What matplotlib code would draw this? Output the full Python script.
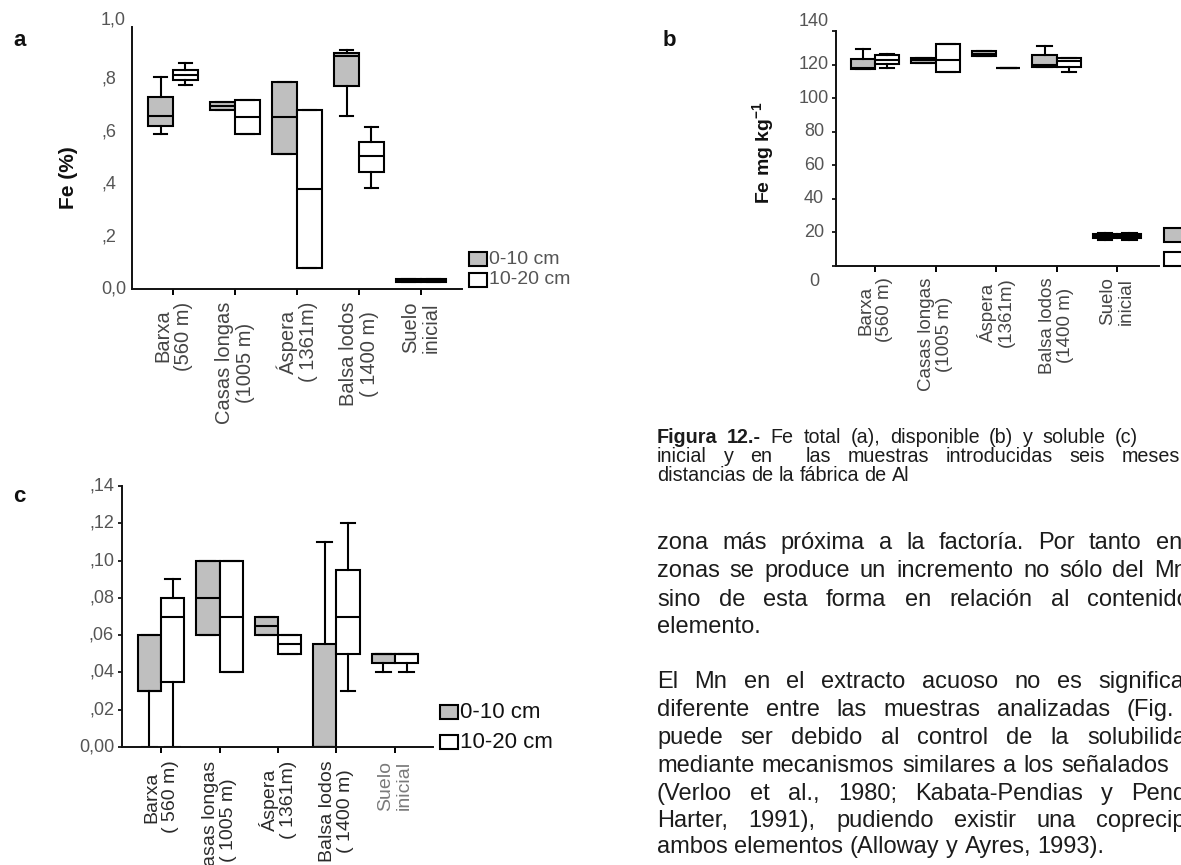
import matplotlib
matplotlib.use("Agg")
import matplotlib.pyplot as plt
from matplotlib.patches import Rectangle
from matplotlib.transforms import blended_transform_factory

plt.rcParams['font.family'] = ['Liberation Sans', 'DejaVu Sans']
plt.rcParams['mathtext.fontset'] = 'custom'
plt.rcParams['mathtext.rm'] = 'Liberation Sans'
plt.rcParams['mathtext.bf'] = 'Liberation Sans:bold'

W, H, DPI = 1181, 865, 100

# ---------------------------------------------------------------- data
# box statistics per site: (whislo, q1, med, q3, whishi)
sites_a = ["Barxa\n(560 m)", "Casas longas\n(1005 m)", "Áspera\n( 1361m)",
           "Balsa lodos\n( 1400 m)", "Suelo\ninicial"]
sites_b = ["Barxa\n(560 m)", "Casas longas\n(1005 m)", "Áspera\n(1361m)",
           "Balsa lodos\n(1400 m)", "Suelo\ninicial"]
sites_c = ["Barxa\n( 560 m)", "Casas longas\n( 1005 m)", "Áspera\n( 1361m)",
           "Balsa lodos\n( 1400 m)", "Suelo\ninicial"]

fe_total_0_10 = [(0.593, 0.622, 0.659, 0.734, 0.809),
                 (0.682, 0.682, 0.697, 0.712, 0.712),
                 (0.515, 0.515, 0.655, 0.790, 0.790),
                 (0.659, 0.776, 0.888, 0.901, 0.911),
                 (0.027, 0.027, 0.032, 0.037, 0.037)]
fe_total_10_20 = [(0.777, 0.797, 0.815, 0.836, 0.861),
                  (0.593, 0.593, 0.656, 0.721, 0.721),
                  (0.081, 0.081, 0.382, 0.682, 0.682),
                  (0.385, 0.445, 0.507, 0.562, 0.618),
                  (0.027, 0.027, 0.032, 0.037, 0.037)]

fe_disp_0_10 = [(117.5, 117.5, 118.0, 123.2, 129.0),
                (121.2, 121.2, 122.5, 123.8, 123.8),
                (125.0, 125.0, 126.3, 127.8, 127.8),
                (118.7, 118.7, 119.5, 125.5, 131.0),
                (15.6, 16.4, 17.7, 19.0, 19.8)]
fe_disp_10_20 = [(117.8, 120.5, 123.0, 125.5, 126.5),
                 (115.5, 115.5, 123.0, 132.5, 132.5),
                 (118.0, 118.0, 118.0, 118.0, 118.0),
                 (115.5, 118.8, 122.0, 124.0, 124.0),
                 (15.6, 16.4, 17.7, 19.0, 19.8)]

fe_sol_0_10 = [(0.000, 0.030, 0.030, 0.060, 0.060),
               (0.060, 0.060, 0.080, 0.100, 0.100),
               (0.060, 0.060, 0.065, 0.070, 0.070),
               (0.000, 0.000, 0.000, 0.055, 0.110),
               (0.040, 0.045, 0.050, 0.050, 0.050)]
fe_sol_10_20 = [(0.000, 0.035, 0.070, 0.080, 0.090),
                (0.040, 0.040, 0.070, 0.100, 0.100),
                (0.050, 0.050, 0.055, 0.060, 0.060),
                (0.030, 0.050, 0.070, 0.095, 0.120),
                (0.040, 0.045, 0.050, 0.050, 0.050)]

ticks_a = [0.0, 0.2, 0.4, 0.6, 0.8, 1.0]
ticklabels_a = ["0,0", ",2", ",4", ",6", ",8", "1,0"]
ticks_b = [0, 20, 40, 60, 80, 100, 120, 140]
ticklabels_b = ["0", "20", "40", "60", "80", "100", "120", "140"]
ticks_c = [0.0, 0.02, 0.04, 0.06, 0.08, 0.10, 0.12, 0.14]
ticklabels_c = ["0,00", ",02", ",04", ",06", ",08", ",10", ",12", ",14"]

depths = ["0-10 cm", "10-20 cm"]

# ---------------------------------------------------------------- style
GRAY = '#bfbfbf'
LW = 1.5
TICKCOL = '#555555'
TXT = '#1c1c1c'

fig = plt.figure(figsize=(W / DPI, H / DPI), dpi=DPI)
fig.patch.set_facecolor('white')


def fx(x):
    return x / W


def fy(y):
    return 1 - y / H


def make_axes(left, right, bottom, top):
    ax = fig.add_axes([fx(left), fy(bottom), (right - left) / W, (bottom - top) / H])
    ax.patch.set_alpha(0)
    for s in ('top', 'right'):
        ax.spines[s].set_visible(False)
    for s in ('left', 'bottom'):
        ax.spines[s].set_linewidth(1.4)
        ax.spines[s].set_color('#111111')
    return ax


def draw_boxes(ax, rows, positions, face, capw):
    stats = [dict(whislo=r[0], q1=r[1], med=r[2], q3=r[3], whishi=r[4], fliers=[])
             for r in rows]
    ax.bxp(stats, positions=positions, widths=0.4, capwidths=capw,
           patch_artist=True, showfliers=False, manage_ticks=False,
           boxprops=dict(facecolor=face, edgecolor='black', linewidth=LW),
           medianprops=dict(color='black', linewidth=LW),
           whiskerprops=dict(color='black', linewidth=LW),
           capprops=dict(color='black', linewidth=LW))


def panel(ax, lo_rows, hi_rows, sites, ylim, xlim, ticks, labels, lab_x, lab_ha,
          offsets, xpad_px, ytick_len, capw, xlab_colors, xlab_size):
    pos = list(range(1, len(sites) + 1))
    draw_boxes(ax, lo_rows, [p - 0.2 for p in pos], GRAY, capw)
    draw_boxes(ax, hi_rows, [p + 0.2 for p in pos], 'white', capw)
    ax.set_xlim(*xlim)
    ax.set_ylim(*ylim)
    ax.set_xticks(pos)
    ax.set_xticklabels(sites, rotation=90, ha='center', va='top',
                       multialignment='center', fontsize=xlab_size, linespacing=1.1)
    for t, c in zip(ax.get_xticklabels(), xlab_colors):
        t.set_color(c)
    ax.tick_params(axis='x', length=4, width=1.4, direction='out',
                   pad=xpad_px * 72 / DPI)
    ax.set_yticks(ticks)
    ax.set_yticklabels([])
    ax.tick_params(axis='y', length=ytick_len, width=1.2, direction='out')
    tr = blended_transform_factory(fig.transFigure, ax.transData)
    for v, s in zip(ticks, labels):
        dy = offsets.get(s, 0)
        ax.annotate(s, xy=(fx(lab_x), v), xycoords=tr, xytext=(0, dy * 72 / DPI),
                    textcoords='offset points', ha=lab_ha, va='center',
                    fontsize=13, color=TICKCOL, annotation_clip=False)


# ---------------------------------------------------------------- panel a
ax_a = make_axes(132, 462, 289, 27)
panel(ax_a, fe_total_0_10, fe_total_10_20, sites_a, (0, 1.0), (0.339, 5.66),
      ticks_a, ticklabels_a, 101, 'left', {"1,0": 7}, 7, 0, 0.2,
      ['#444444'] * 5, 14.5)
fig.text(fx(68), fy(178), "Fe (%)", rotation=90, ha='center', va='center',
         fontsize=15, fontweight='bold', color='#111111')

# ---------------------------------------------------------------- panel b
ax_b = make_axes(836, 1159, 266, 31)
panel(ax_b, fe_disp_0_10, fe_disp_10_20, sites_b, (0, 140), (0.355, 5.69),
      ticks_b, ticklabels_b, 814, 'center', {"140": 9, "0": -16}, 6, 3, 0.24,
      ['#444444'] * 5, 13.5)
fig.text(fx(764), fy(152), r"Fe mg kg$^{\mathbf{-1}}$", rotation=90, ha='center',
         va='center', fontsize=14, fontweight='bold', color='#111111')

# ---------------------------------------------------------------- panel c
ax_c = make_axes(122, 433, 747, 486)
panel(ax_c, fe_sol_0_10, fe_sol_10_20, sites_c, (0, 0.14), (0.333, 5.65),
      ticks_c, ticklabels_c, 114, 'right', {}, 8, 3, 0.25,
      ['#2a2a2a'] * 4 + ['#7a7a7a'], 14)

# ---------------------------------------------------------------- legends
def legend_px(x, ys, h, labels, size, color, w=18):
    for (y0, face, lab) in zip(ys, (GRAY, 'white'), labels):
        fig.patches.append(Rectangle((fx(x), fy(y0 + h)), w / W, h / H,
                                     transform=fig.transFigure, facecolor=face,
                                     edgecolor='black', linewidth=1.5))
        if lab is not None:
            fig.text(fx(x + w + 2), fy(y0 + h / 2), lab, ha='left', va='center',
                     fontsize=size, color=color)


legend_px(469, [252, 273], 14, depths, 14, '#555555')
legend_px(1164, [228, 252], 14, [None, None], 14, '#555555', w=22)
legend_px(440, [705, 735], 14, depths, 16, '#111111')

# panel letters
for (x, y, s) in [(13, 40, 'a'), (663, 40, 'b'), (13, 497, 'c')]:
    fig.text(fx(x), fy(y), s, fontsize=16, fontweight='bold', ha='left',
             va='center', color='#111111')

# ---------------------------------------------------------------- text block
renderer = fig.canvas.get_renderer()


def line(words, x0, y, size, x1=None, nbold=0):
    texts = [fig.text(0, 0, w, fontsize=size, color=TXT, ha='left', va='baseline',
                      fontweight='bold' if i < nbold else 'normal')
             for i, w in enumerate(words)]
    widths = [t.get_window_extent(renderer).width if w else 0.0
              for t, w in zip(texts, words)]
    if x1 is None or len(words) < 2:
        sp = 0.278 * size * DPI / 72
    else:
        sp = (x1 - x0 - sum(widths)) / (len(words) - 1)
    x = x0
    for t, wd in zip(texts, widths):
        t.set_position((fx(x), fy(y)))
        x += wd + sp


X0 = 657
cap = 14.2
line("Figura 12.- Fe total (a), disponible (b) y soluble (c)".split(" "),
     X0, 443, cap, 1138, nbold=2)
line(["inicial", "y", "en", "", "las", "muestras", "introducidas", "seis", "meses"],
     X0, 462, cap, 1180)
line("distancias de la fábrica de Al".split(" "), X0, 481, cap)

body = 17
body_lines = [
    ("zona más próxima a la factoría. Por tanto en", 1182),
    ("zonas se produce un incremento no sólo del Mn", 1187),
    ("sino de esta forma en relación al contenido", 1190),
    ("elemento.", None),
    ("El Mn en el extracto acuoso no es significa", 1184),
    ("diferente entre las muestras analizadas (Fig.", 1174),
    ("puede ser debido al control de la solubilida", 1186),
    ("mediante mecanismos similares a los señalados", 1169),
    ("(Verloo et al., 1980; Kabata-Pendias y Pend", 1186),
    ("Harter, 1991), pudiendo existir una coprecip", 1186),
    ("ambos elementos (Alloway y Ayres, 1993).", None),
]
ys = [549, 577, 606, 633, 688, 716, 744, 772, 800, 827, 853]
for (s, x1), y in zip(body_lines, ys):
    line(s.split(" "), X0, y, body, x1)

fig.savefig("out.png", dpi=DPI, facecolor='white')
